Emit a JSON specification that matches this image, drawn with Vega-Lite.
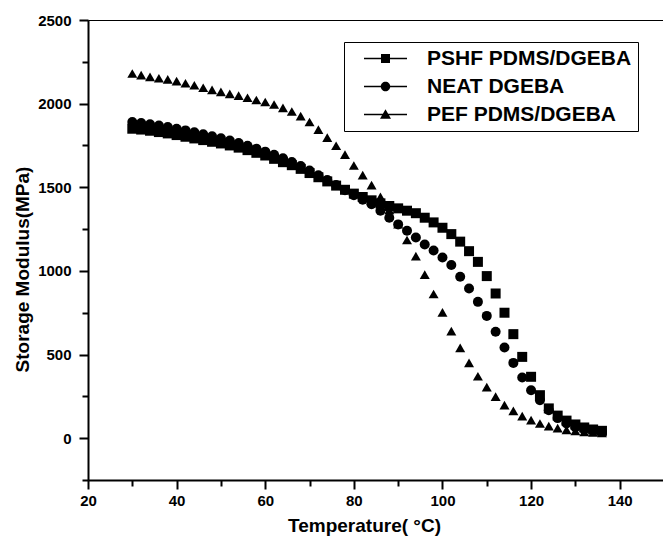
{
  "$schema": "https://vega.github.io/schema/vega-lite/v6.json",
  "width": 576,
  "height": 460,
  "autosize": {"type": "none"},
  "padding": {"left": 88, "top": 20, "right": 0, "bottom": 61},
  "background": "white",
  "config": {
    "view": {"stroke": "black", "strokeWidth": 1},
    "font": "Liberation Sans",
    "axis": {
      "domainColor": "black",
      "domainWidth": 2,
      "tickColor": "black",
      "tickWidth": 2,
      "labelFont": "Liberation Sans",
      "labelFontWeight": "bold",
      "labelFontSize": 15,
      "labelColor": "black",
      "titleFont": "Liberation Sans",
      "titleFontWeight": "bold",
      "titleFontSize": 19,
      "titleColor": "black",
      "grid": false
    }
  },
  "data": {
    "values": [
      {"T": 30, "E": 1850, "s": "PSHF PDMS/DGEBA"}, {"T": 32, "E": 1845, "s": "PSHF PDMS/DGEBA"}, {"T": 34, "E": 1838, "s": "PSHF PDMS/DGEBA"}, {"T": 36, "E": 1830, "s": "PSHF PDMS/DGEBA"},
      {"T": 38, "E": 1822, "s": "PSHF PDMS/DGEBA"}, {"T": 40, "E": 1812, "s": "PSHF PDMS/DGEBA"}, {"T": 42, "E": 1802, "s": "PSHF PDMS/DGEBA"}, {"T": 44, "E": 1792, "s": "PSHF PDMS/DGEBA"},
      {"T": 46, "E": 1782, "s": "PSHF PDMS/DGEBA"}, {"T": 48, "E": 1772, "s": "PSHF PDMS/DGEBA"}, {"T": 50, "E": 1762, "s": "PSHF PDMS/DGEBA"}, {"T": 52, "E": 1750, "s": "PSHF PDMS/DGEBA"},
      {"T": 54, "E": 1737, "s": "PSHF PDMS/DGEBA"}, {"T": 56, "E": 1722, "s": "PSHF PDMS/DGEBA"}, {"T": 58, "E": 1706, "s": "PSHF PDMS/DGEBA"}, {"T": 60, "E": 1690, "s": "PSHF PDMS/DGEBA"},
      {"T": 62, "E": 1670, "s": "PSHF PDMS/DGEBA"}, {"T": 64, "E": 1650, "s": "PSHF PDMS/DGEBA"}, {"T": 66, "E": 1632, "s": "PSHF PDMS/DGEBA"}, {"T": 68, "E": 1610, "s": "PSHF PDMS/DGEBA"},
      {"T": 70, "E": 1585, "s": "PSHF PDMS/DGEBA"}, {"T": 72, "E": 1560, "s": "PSHF PDMS/DGEBA"}, {"T": 74, "E": 1535, "s": "PSHF PDMS/DGEBA"}, {"T": 76, "E": 1510, "s": "PSHF PDMS/DGEBA"},
      {"T": 78, "E": 1485, "s": "PSHF PDMS/DGEBA"}, {"T": 80, "E": 1462, "s": "PSHF PDMS/DGEBA"}, {"T": 82, "E": 1442, "s": "PSHF PDMS/DGEBA"}, {"T": 84, "E": 1422, "s": "PSHF PDMS/DGEBA"},
      {"T": 86, "E": 1404, "s": "PSHF PDMS/DGEBA"}, {"T": 88, "E": 1388, "s": "PSHF PDMS/DGEBA"}, {"T": 90, "E": 1374, "s": "PSHF PDMS/DGEBA"}, {"T": 92, "E": 1360, "s": "PSHF PDMS/DGEBA"},
      {"T": 94, "E": 1345, "s": "PSHF PDMS/DGEBA"}, {"T": 96, "E": 1318, "s": "PSHF PDMS/DGEBA"}, {"T": 98, "E": 1290, "s": "PSHF PDMS/DGEBA"}, {"T": 100, "E": 1258, "s": "PSHF PDMS/DGEBA"},
      {"T": 102, "E": 1220, "s": "PSHF PDMS/DGEBA"}, {"T": 104, "E": 1175, "s": "PSHF PDMS/DGEBA"}, {"T": 106, "E": 1118, "s": "PSHF PDMS/DGEBA"}, {"T": 108, "E": 1054, "s": "PSHF PDMS/DGEBA"},
      {"T": 110, "E": 969, "s": "PSHF PDMS/DGEBA"}, {"T": 112, "E": 865, "s": "PSHF PDMS/DGEBA"}, {"T": 114, "E": 750, "s": "PSHF PDMS/DGEBA"}, {"T": 116, "E": 622, "s": "PSHF PDMS/DGEBA"},
      {"T": 118, "E": 486, "s": "PSHF PDMS/DGEBA"}, {"T": 120, "E": 367, "s": "PSHF PDMS/DGEBA"}, {"T": 122, "E": 257, "s": "PSHF PDMS/DGEBA"}, {"T": 124, "E": 178, "s": "PSHF PDMS/DGEBA"},
      {"T": 126, "E": 135, "s": "PSHF PDMS/DGEBA"}, {"T": 128, "E": 105, "s": "PSHF PDMS/DGEBA"}, {"T": 130, "E": 82, "s": "PSHF PDMS/DGEBA"}, {"T": 132, "E": 64, "s": "PSHF PDMS/DGEBA"},
      {"T": 134, "E": 52, "s": "PSHF PDMS/DGEBA"}, {"T": 136, "E": 44, "s": "PSHF PDMS/DGEBA"},

      {"T": 30, "E": 1890, "s": "NEAT DGEBA"}, {"T": 32, "E": 1884, "s": "NEAT DGEBA"}, {"T": 34, "E": 1877, "s": "NEAT DGEBA"}, {"T": 36, "E": 1869, "s": "NEAT DGEBA"},
      {"T": 38, "E": 1860, "s": "NEAT DGEBA"}, {"T": 40, "E": 1850, "s": "NEAT DGEBA"}, {"T": 42, "E": 1840, "s": "NEAT DGEBA"}, {"T": 44, "E": 1829, "s": "NEAT DGEBA"},
      {"T": 46, "E": 1817, "s": "NEAT DGEBA"}, {"T": 48, "E": 1805, "s": "NEAT DGEBA"}, {"T": 50, "E": 1793, "s": "NEAT DGEBA"}, {"T": 52, "E": 1779, "s": "NEAT DGEBA"},
      {"T": 54, "E": 1764, "s": "NEAT DGEBA"}, {"T": 56, "E": 1748, "s": "NEAT DGEBA"}, {"T": 58, "E": 1731, "s": "NEAT DGEBA"}, {"T": 60, "E": 1713, "s": "NEAT DGEBA"},
      {"T": 62, "E": 1694, "s": "NEAT DGEBA"}, {"T": 64, "E": 1673, "s": "NEAT DGEBA"}, {"T": 66, "E": 1651, "s": "NEAT DGEBA"}, {"T": 68, "E": 1627, "s": "NEAT DGEBA"},
      {"T": 70, "E": 1600, "s": "NEAT DGEBA"}, {"T": 72, "E": 1572, "s": "NEAT DGEBA"}, {"T": 74, "E": 1543, "s": "NEAT DGEBA"}, {"T": 76, "E": 1513, "s": "NEAT DGEBA"},
      {"T": 78, "E": 1482, "s": "NEAT DGEBA"}, {"T": 80, "E": 1452, "s": "NEAT DGEBA"}, {"T": 82, "E": 1425, "s": "NEAT DGEBA"}, {"T": 84, "E": 1398, "s": "NEAT DGEBA"},
      {"T": 86, "E": 1360, "s": "NEAT DGEBA"}, {"T": 88, "E": 1318, "s": "NEAT DGEBA"}, {"T": 90, "E": 1278, "s": "NEAT DGEBA"}, {"T": 92, "E": 1240, "s": "NEAT DGEBA"},
      {"T": 94, "E": 1200, "s": "NEAT DGEBA"}, {"T": 96, "E": 1158, "s": "NEAT DGEBA"}, {"T": 98, "E": 1122, "s": "NEAT DGEBA"}, {"T": 100, "E": 1080, "s": "NEAT DGEBA"},
      {"T": 102, "E": 1035, "s": "NEAT DGEBA"}, {"T": 104, "E": 965, "s": "NEAT DGEBA"}, {"T": 106, "E": 895, "s": "NEAT DGEBA"}, {"T": 108, "E": 815, "s": "NEAT DGEBA"},
      {"T": 110, "E": 731, "s": "NEAT DGEBA"}, {"T": 112, "E": 636, "s": "NEAT DGEBA"}, {"T": 114, "E": 542, "s": "NEAT DGEBA"}, {"T": 116, "E": 450, "s": "NEAT DGEBA"},
      {"T": 118, "E": 363, "s": "NEAT DGEBA"}, {"T": 120, "E": 287, "s": "NEAT DGEBA"}, {"T": 122, "E": 227, "s": "NEAT DGEBA"}, {"T": 124, "E": 167, "s": "NEAT DGEBA"},
      {"T": 126, "E": 120, "s": "NEAT DGEBA"}, {"T": 128, "E": 88, "s": "NEAT DGEBA"}, {"T": 130, "E": 66, "s": "NEAT DGEBA"}, {"T": 132, "E": 52, "s": "NEAT DGEBA"},
      {"T": 134, "E": 44, "s": "NEAT DGEBA"}, {"T": 136, "E": 38, "s": "NEAT DGEBA"},

      {"T": 30, "E": 2180, "s": "PEF PDMS/DGEBA"}, {"T": 32, "E": 2170, "s": "PEF PDMS/DGEBA"}, {"T": 34, "E": 2160, "s": "PEF PDMS/DGEBA"}, {"T": 36, "E": 2152, "s": "PEF PDMS/DGEBA"},
      {"T": 38, "E": 2145, "s": "PEF PDMS/DGEBA"}, {"T": 40, "E": 2135, "s": "PEF PDMS/DGEBA"}, {"T": 42, "E": 2122, "s": "PEF PDMS/DGEBA"}, {"T": 44, "E": 2110, "s": "PEF PDMS/DGEBA"},
      {"T": 46, "E": 2095, "s": "PEF PDMS/DGEBA"}, {"T": 48, "E": 2082, "s": "PEF PDMS/DGEBA"}, {"T": 50, "E": 2070, "s": "PEF PDMS/DGEBA"}, {"T": 52, "E": 2058, "s": "PEF PDMS/DGEBA"},
      {"T": 54, "E": 2048, "s": "PEF PDMS/DGEBA"}, {"T": 56, "E": 2035, "s": "PEF PDMS/DGEBA"}, {"T": 58, "E": 2022, "s": "PEF PDMS/DGEBA"}, {"T": 60, "E": 2010, "s": "PEF PDMS/DGEBA"},
      {"T": 62, "E": 1995, "s": "PEF PDMS/DGEBA"}, {"T": 64, "E": 1975, "s": "PEF PDMS/DGEBA"}, {"T": 66, "E": 1953, "s": "PEF PDMS/DGEBA"}, {"T": 68, "E": 1925, "s": "PEF PDMS/DGEBA"},
      {"T": 70, "E": 1890, "s": "PEF PDMS/DGEBA"}, {"T": 72, "E": 1845, "s": "PEF PDMS/DGEBA"}, {"T": 74, "E": 1797, "s": "PEF PDMS/DGEBA"}, {"T": 76, "E": 1748, "s": "PEF PDMS/DGEBA"},
      {"T": 78, "E": 1695, "s": "PEF PDMS/DGEBA"}, {"T": 80, "E": 1630, "s": "PEF PDMS/DGEBA"}, {"T": 82, "E": 1573, "s": "PEF PDMS/DGEBA"}, {"T": 84, "E": 1513, "s": "PEF PDMS/DGEBA"},
      {"T": 86, "E": 1443, "s": "PEF PDMS/DGEBA"}, {"T": 88, "E": 1365, "s": "PEF PDMS/DGEBA"}, {"T": 90, "E": 1280, "s": "PEF PDMS/DGEBA"}, {"T": 92, "E": 1185, "s": "PEF PDMS/DGEBA"},
      {"T": 94, "E": 1088, "s": "PEF PDMS/DGEBA"}, {"T": 96, "E": 978, "s": "PEF PDMS/DGEBA"}, {"T": 98, "E": 862, "s": "PEF PDMS/DGEBA"}, {"T": 100, "E": 752, "s": "PEF PDMS/DGEBA"},
      {"T": 102, "E": 640, "s": "PEF PDMS/DGEBA"}, {"T": 104, "E": 540, "s": "PEF PDMS/DGEBA"}, {"T": 106, "E": 450, "s": "PEF PDMS/DGEBA"}, {"T": 108, "E": 370, "s": "PEF PDMS/DGEBA"},
      {"T": 110, "E": 305, "s": "PEF PDMS/DGEBA"}, {"T": 112, "E": 248, "s": "PEF PDMS/DGEBA"}, {"T": 114, "E": 198, "s": "PEF PDMS/DGEBA"}, {"T": 116, "E": 163, "s": "PEF PDMS/DGEBA"},
      {"T": 118, "E": 132, "s": "PEF PDMS/DGEBA"}, {"T": 120, "E": 108, "s": "PEF PDMS/DGEBA"}, {"T": 122, "E": 88, "s": "PEF PDMS/DGEBA"}, {"T": 124, "E": 72, "s": "PEF PDMS/DGEBA"},
      {"T": 126, "E": 60, "s": "PEF PDMS/DGEBA"}, {"T": 128, "E": 50, "s": "PEF PDMS/DGEBA"}, {"T": 130, "E": 43, "s": "PEF PDMS/DGEBA"}, {"T": 132, "E": 38, "s": "PEF PDMS/DGEBA"},
      {"T": 134, "E": 34, "s": "PEF PDMS/DGEBA"}, {"T": 136, "E": 32, "s": "PEF PDMS/DGEBA"}
    ]
  },
  "encoding": {
    "x": {
      "field": "T",
      "type": "quantitative",
      "scale": {"domain": [20, 150], "nice": false, "zero": false},
      "axis": {
        "title": "Temperature( °C)",
        "values": [20, 30, 40, 50, 60, 70, 80, 90, 100, 110, 120, 130, 140, 150],
        "labelExpr": "datum.value % 20 === 0 && datum.value < 150 ? datum.label : ''",
        "tickSize": {"condition": {"test": "datum.value % 20 === 0", "value": 9}, "value": 6},
        "labelPadding": 4,
        "labelFlush": false,
        "titleX": 276,
        "titleY": 51,
        "titleBaseline": "alphabetic"
      }
    },
    "y": {
      "field": "E",
      "type": "quantitative",
      "scale": {"domain": [-250, 2500], "nice": false, "zero": false},
      "axis": {
        "title": "Storage Modulus(MPa)",
        "values": [-250, 0, 250, 500, 750, 1000, 1250, 1500, 1750, 2000, 2250, 2500],
        "labelExpr": "datum.value % 500 === 0 ? datum.label : ''",
        "format": "d",
        "tickSize": {"condition": {"test": "datum.value % 500 === 0", "value": 9}, "value": 6},
        "labelPadding": 8,
        "labelFlush": false,
        "titleAngle": -90,
        "titleX": -60,
        "titleY": 249,
        "titleAlign": "center",
        "titleBaseline": "alphabetic"
      }
    }
  },
  "layer": [
    {
      "transform": [{"filter": "datum.s === 'PSHF PDMS/DGEBA'"}],
      "mark": {"type": "point", "shape": "square", "filled": true, "color": "black", "opacity": 1, "size": 100}
    },
    {
      "transform": [{"filter": "datum.s === 'NEAT DGEBA'"}],
      "mark": {"type": "point", "shape": "circle", "filled": true, "color": "black", "opacity": 1, "size": 100}
    },
    {
      "transform": [{"filter": "datum.s === 'PEF PDMS/DGEBA'"}],
      "mark": {"type": "point", "shape": "triangle-up", "filled": true, "color": "black", "opacity": 1, "size": 100}
    },
    {
      "transform": [{"filter": "false"}],
      "mark": {"type": "point", "filled": true, "color": "black", "opacity": 1, "size": 100},
      "encoding": {
        "shape": {
          "field": "s",
          "type": "nominal",
          "scale": {
            "domain": ["PSHF PDMS/DGEBA", "NEAT DGEBA", "PEF PDMS/DGEBA"],
            "range": [
              "M-4.3,-0.15H4.3V0.15H-4.3ZM-0.9,-0.9H0.9V0.9H-0.9Z",
              "M-4.3,-0.15H4.3V0.15H-4.3ZM-0.95,0A0.95,0.95,0,1,1,0.95,0A0.95,0.95,0,1,1,-0.95,0Z",
              "M-4.3,-0.15H4.3V0.15H-4.3ZM0,-1.05L1.1,0.85L-1.1,0.85Z"
            ]
          },
          "legend": {
            "title": null,
            "orient": "none",
            "legendX": 256,
            "legendY": 22,
            "padding": 6,
            "strokeColor": "black",
            "fillColor": "white",
            "symbolSize": 100,
            "symbolFillColor": "black",
            "symbolOpacity": 1,
            "symbolOffset": 25,
            "labelOffset": 31,
            "rowPadding": 6,
            "labelFont": "Liberation Sans",
            "labelFontWeight": "bold",
            "labelFontSize": 21,
            "labelColor": "black",
            "labelLimit": 400,
            "labelExpr": "datum.label + '\u00a0\u00a0\u00a0\u00a0\u00a0\u00a0'"
          }
        }
      }
    }
  ]
}
